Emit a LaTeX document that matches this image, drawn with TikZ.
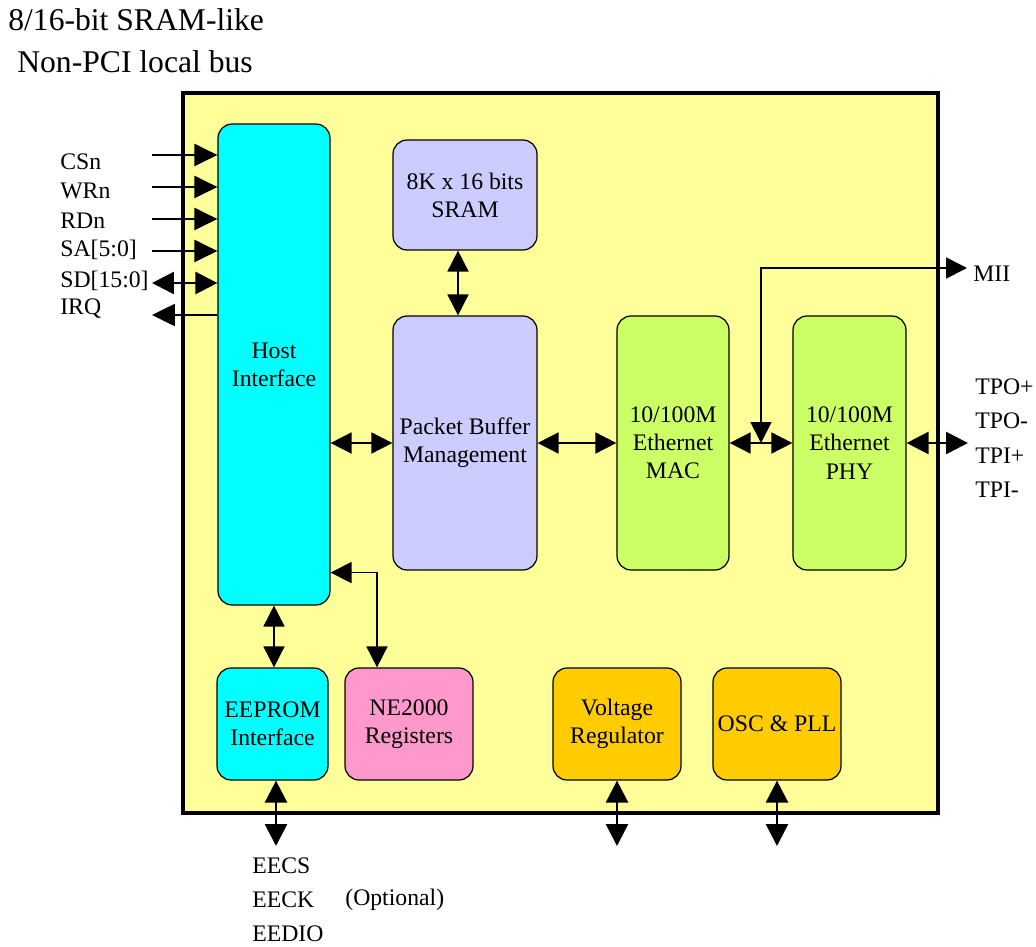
\documentclass[tikz,border=0pt]{standalone}
\usepackage{fontspec}
\setmainfont{Liberation Serif}
\usepackage{tikz}
\usetikzlibrary{arrows.meta,calc}
\definecolor{chipbg}{HTML}{FFFF99}
\definecolor{hostbg}{HTML}{00FFFF}
\definecolor{bufbg}{HTML}{CCCCFF}
\definecolor{ethbg}{HTML}{CCFF66}
\definecolor{regbg}{HTML}{FF99CC}
\definecolor{pwrbg}{HTML}{FFCC00}

\begin{document}
\begin{tikzpicture}[x=0.02cm,y=-0.02cm,
    blk/.style={draw,line width=0.7pt,rounded corners=8pt,align=center,
                font=\fontsize{13.5}{16}\selectfont,inner sep=0pt},
    lbl/.style={anchor=west,inner sep=0pt,font=\fontsize{13.5}{16}\selectfont},
    bus/.style={line width=1pt,
                {Triangle[length=4.2mm,width=4.2mm]}-{Triangle[length=4.2mm,width=4.2mm]}},
    sigin/.style={line width=1.5pt,-{Triangle[length=4.6mm,width=4.4mm]}},
    sigbi/.style={line width=1.5pt,
                {Triangle[length=4.4mm,width=4.4mm]}-{Triangle[length=4.4mm,width=4.4mm]}}]
  \useasboundingbox (0,0) rectangle (1036,947);

  % title
  \node[anchor=west,inner sep=0pt,font=\fontsize{18}{22}\selectfont] (title) at (8,20) {8/16-bit SRAM-like};
  \node[anchor=west,inner sep=0pt,font=\fontsize{18}{22}\selectfont] (sub) at (17,62) {Non-PCI local bus};

  % chip outline
  \draw[fill=chipbg,line width=2.3pt] (183,93) rectangle (938,813);

  % blocks
  \node[blk,fill=hostbg,minimum width=2.24cm,minimum height=9.62cm] (host) at (274,364.5) {Host\\Interface};
  \node[blk,fill=bufbg,minimum width=2.88cm,minimum height=2.2cm] (sram) at (465,195) {8K x 16 bits\\SRAM};
  \node[blk,fill=bufbg,minimum width=2.88cm,minimum height=5.08cm] (pbm) at (465,443) {Packet Buffer\\Management};
  \node[blk,fill=ethbg,minimum width=2.24cm,minimum height=5.08cm] (mac) at (673,443) {10/100M\\Ethernet\\MAC};
  \node[blk,fill=ethbg,minimum width=2.26cm,minimum height=5.08cm] (phy) at (849.5,443) {10/100M\\Ethernet\\PHY};
  \node[blk,fill=hostbg,minimum width=2.22cm,minimum height=2.24cm] (eeprom) at (272.5,724) {EEPROM\\Interface};
  \node[blk,fill=regbg,minimum width=2.56cm,minimum height=2.24cm] (ne) at (409,724) {NE2000\\Registers};
  \node[blk,fill=pwrbg,minimum width=2.56cm,minimum height=2.24cm] (vreg) at (617,724) {Voltage\\Regulator};
  \node[blk,fill=pwrbg,minimum width=2.56cm,minimum height=2.24cm] (osc) at (777,724) {OSC \& PLL};

  % local bus signals
  \foreach \n/\y in {cs/155,wr/187,rd/219,sa/251,sd/283,irq/315}
    \coordinate (\n) at (152,\y);
  \foreach \n in {cs,wr,rd,sa}
    \draw[sigin] (\n) -- (host.west |- \n);
  \draw[sigbi] (sd) -- (host.west |- sd);
  \draw[sigin] (host.west |- irq) -- (irq);
  \node[lbl] (lcs) at (60,162) {CSn};
  \node[lbl] (lwr) at (60,191) {WRn};
  \node[lbl] (lrd) at (60,221) {RDn};
  \node[lbl] (lsa) at (60,250) {SA[5:0]};
  \node[lbl] (lsd) at (60,281) {SD[15:0]};
  \node[lbl] (lirq) at (60,309) {IRQ};

  % internal buses
  \draw[bus] (host.east |- pbm) -- (pbm.west);
  \draw[bus] (pbm.east) -- (mac.west);
  \draw[bus] (mac.east) -- (phy.west);
  \draw[bus] ($(sram.south)+(-7,0)$) -- ($(pbm.north)+(-7,0)$);
  \draw[bus] (host.south) -- (host.south |- eeprom.north);
  \draw[bus] ($(host.south east)+(0,-33)$) -| ($(ne.north)+(-32,0)$);

  % MII and line side
  \coordinate (mii) at (967,268);
  \draw[bus] ($(mac.east)!0.5!(phy.west)$) |- (mii);
  \node[lbl] (lmii) at (973,274) {MII};
  \coordinate (tp) at (968,443);
  \draw[sigbi] (phy.east) -- (tp);
  \node[lbl] (ltpo1) at (975,387) {TPO+};
  \node[lbl] (ltpo2) at (975,421) {TPO-};
  \node[lbl] (ltpi1) at (975,456) {TPI+};
  \node[lbl] (ltpi2) at (975,490) {TPI-};

  % bottom pins
  \coordinate (ee) at (276,846);
  \coordinate (vr) at (617,846);
  \coordinate (ck) at (777,846);
  \draw[sigbi] (ee |- eeprom.south) -- (ee);
  \draw[sigbi] (vreg.south) -- (vr);
  \draw[sigbi] (osc.south) -- (ck);
  \node[lbl] (lcs2) at (252,866) {EECS};
  \node[lbl] (lck) at (252,900) {EECK};
  \node[lbl] (ldio) at (252,934) {EEDIO};
  \node[lbl] (lopt) at (345,900) {(Optional)};
\end{tikzpicture}
\end{document}
